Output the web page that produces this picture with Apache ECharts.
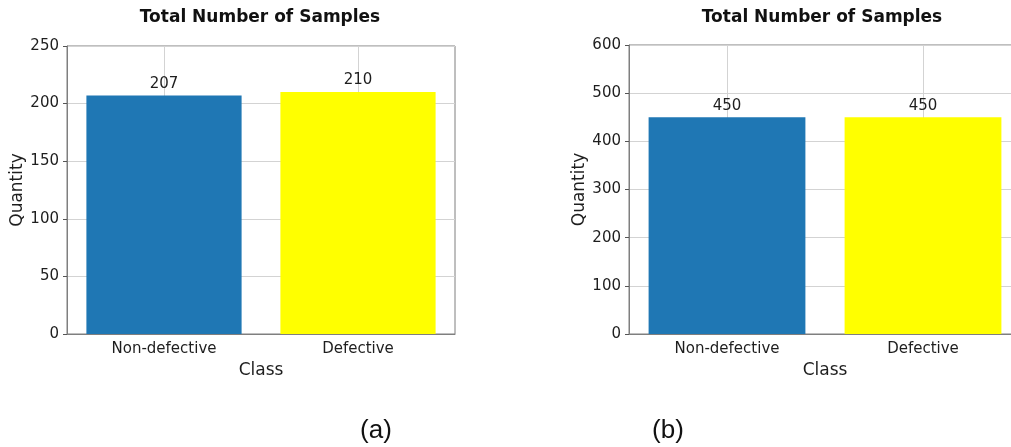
<!DOCTYPE html>
<html>
<head>
<meta charset="utf-8">
<script src="https://cdn.jsdelivr.net/npm/echarts@6/dist/echarts.min.js"></script>
<style>
  html, body { margin: 0; padding: 0; background: #fff; }
  #chart { width: 1011px; height: 447px; }
</style>
</head>
<body>
<div id="chart"></div>
<script>
const categories = ['Non-defective', 'Defective']
const barColors = ['#1f77b4', '#ffff00']
const valuesA = [207, 210]
const valuesB = [450, 450]
const panelTitle = 'Total Number of Samples'
const captions = ['(a)', '(b)']

const fontFamily = 'DejaVu Sans'
const textColor = '#1e1e1e'
const spineColor = '#7f7f7f'
const gridColor = '#d3d3d3'

const myChart = echarts.init(document.getElementById('chart'))

const makeXAxis = gridIndex => ({
  type: 'category',
  gridIndex: gridIndex,
  data: categories,
  name: 'Class',
  nameLocation: 'middle',
  nameGap: 26,
  nameTextStyle: { fontFamily, fontSize: 17, color: textColor },
  axisLine: { lineStyle: { color: spineColor, width: 1 } },
  axisTick: { alignWithLabel: true, length: 4, lineStyle: { color: '#555' } },
  axisLabel: { fontFamily, fontSize: 15, color: textColor, margin: 8 },
  splitLine: { show: false }
})

const makeYAxis = (gridIndex, max, interval) => ({
  type: 'value',
  gridIndex: gridIndex,
  min: 0,
  max: max,
  interval: interval,
  name: 'Quantity',
  nameLocation: 'middle',
  nameGap: 41,
  nameTextStyle: { fontFamily, fontSize: 17, color: textColor },
  axisLine: { show: true, lineStyle: { color: spineColor, width: 1 } },
  axisTick: { show: true, length: 4, lineStyle: { color: '#555' } },
  axisLabel: { fontFamily, fontSize: 15, color: textColor, margin: 8 },
  splitLine: { lineStyle: { color: gridColor, width: 1 } }
})

const makeBars = (idx, values) => ({
  type: 'bar',
  xAxisIndex: idx,
  yAxisIndex: idx,
  z: 3,
  barCategoryGap: '20%',
  data: values.map((v, i) => ({ value: v, itemStyle: { color: barColors[i] } })),
  label: {
    show: true,
    position: 'top',
    distance: 4,
    fontFamily,
    fontSize: 15,
    color: textColor
  }
})

// vertical grid lines at the category centres, kept below the bars
const makeVGrid = idx => ({
  type: 'line',
  xAxisIndex: idx,
  yAxisIndex: idx,
  z: 1,
  data: [],
  markLine: {
    z: 1,
    silent: true,
    symbol: 'none',
    label: { show: false },
    lineStyle: { color: gridColor, width: 1, type: 'solid' },
    data: categories.map(c => ({ xAxis: c }))
  }
})

const option = {
  backgroundColor: '#ffffff',
  animation: false,
  title: [
    { text: panelTitle, left: 255, top: 4, textAlign: 'center',
      textStyle: { fontFamily, fontSize: 17, fontWeight: 'bold', color: '#111' } },
    { text: panelTitle, left: 817, top: 4, textAlign: 'center',
      textStyle: { fontFamily, fontSize: 17, fontWeight: 'bold', color: '#111' } },
    { text: captions[0], left: 371, top: 413, textAlign: 'center',
      textStyle: { fontFamily: 'Liberation Sans', fontSize: 26, fontWeight: 'normal', color: '#111' } },
    { text: captions[1], left: 663, top: 413, textAlign: 'center',
      textStyle: { fontFamily: 'Liberation Sans', fontSize: 26, fontWeight: 'normal', color: '#111' } }
  ],
  grid: [
    { left: 67, width: 388, top: 46, bottom: 113, outerBoundsMode: 'none', containLabel: false,
      show: true, borderColor: spineColor, borderWidth: 1, backgroundColor: 'transparent' },
    { left: 629, width: 392, top: 45, bottom: 113, outerBoundsMode: 'none', containLabel: false,
      show: true, borderColor: spineColor, borderWidth: 1, backgroundColor: 'transparent' }
  ],
  xAxis: [makeXAxis(0), makeXAxis(1)],
  yAxis: [makeYAxis(0, 250, 50), makeYAxis(1, 600, 100)],
  series: [makeVGrid(0), makeVGrid(1), makeBars(0, valuesA), makeBars(1, valuesB)]
}

myChart.setOption(option)
</script>
</body>
</html>
